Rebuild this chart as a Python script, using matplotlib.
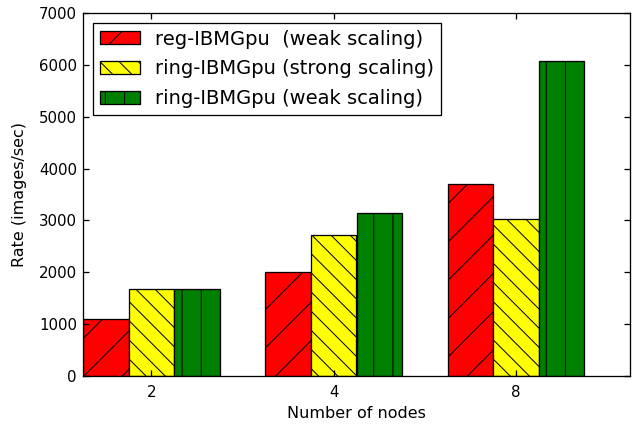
import numpy as np
import matplotlib
matplotlib.use('Agg')
import matplotlib.pyplot as plt

# figure is laid out in pixels; DPI sets the hatch spacing
DPI = 230


def px(v):
    # pixel size -> points at the chosen dpi
    return v * 72.0 / DPI


# ===============================
# DATA
# ===============================
nodes = ['2', '4', '8']
reg_weak = [1100, 2000, 3710]
ring_strong = [1670, 2720, 3030]
ring_weak = [1670, 3140, 6070]

series = [reg_weak, ring_strong, ring_weak]
labels = ['reg-IBMGpu  (weak scaling)',
          'ring-IBMGpu (strong scaling)',
          'ring-IBMGpu (weak scaling)']
colors = ['#ff0000', '#ffff00', '#008000']
BACKSLASH = chr(92)
hatches = ['//', BACKSLASH * 4, '||']  # dense back-diagonal for the middle series

# ===============================
# STYLE
# ===============================
plt.rcParams['font.family'] = 'DejaVu Sans'
plt.rcParams['font.size'] = px(15)
plt.rcParams['hatch.linewidth'] = px(1.0)
plt.rcParams['hatch.color'] = 'black'
plt.rcParams['axes.linewidth'] = px(1.3)
plt.rcParams['xtick.direction'] = 'in'
plt.rcParams['ytick.direction'] = 'in'
plt.rcParams['xtick.top'] = True
plt.rcParams['ytick.right'] = True
plt.rcParams['xtick.major.size'] = px(6)
plt.rcParams['ytick.major.size'] = px(6)
plt.rcParams['xtick.major.width'] = px(1.3)
plt.rcParams['ytick.major.width'] = px(1.3)
plt.rcParams['xtick.major.pad'] = px(9)
plt.rcParams['ytick.major.pad'] = px(6)

# ===============================
# PLOT
# ===============================
fig = plt.figure(figsize=(639 / DPI, 426 / DPI), dpi=DPI)
ax = fig.add_axes([83 / 639, 1 - 376 / 426, 547 / 639, 363 / 426])

ind = np.arange(len(nodes))
width = 0.25

for i, vals in enumerate(series):
    ax.bar(ind + i * width, vals, width, align='edge',
           color=colors[i], edgecolor='black', linewidth=px(1.3),
           hatch=hatches[i], label=labels[i])

ax.set_xlim(0, 3)
ax.set_ylim(0, 7000)
ax.set_yticks(np.arange(0, 7001, 1000))
ax.set_xticks(ind + 1.5 * width)
ax.set_xticklabels(nodes)

ax.set_xlabel('Number of nodes', fontsize=px(16), labelpad=px(6))
ax.set_ylabel('Rate (images/sec)', fontsize=px(16), labelpad=px(12))

leg = ax.legend(loc='upper left', fontsize=px(19.5), fancybox=False,
                framealpha=1, edgecolor='black',
                borderaxespad=0.5, handlelength=2.05, handleheight=0.67,
                handletextpad=0.8, labelspacing=0.55, borderpad=0.35)
leg.get_frame().set_linewidth(px(1.3))

fig.savefig('out.png', dpi=DPI)
